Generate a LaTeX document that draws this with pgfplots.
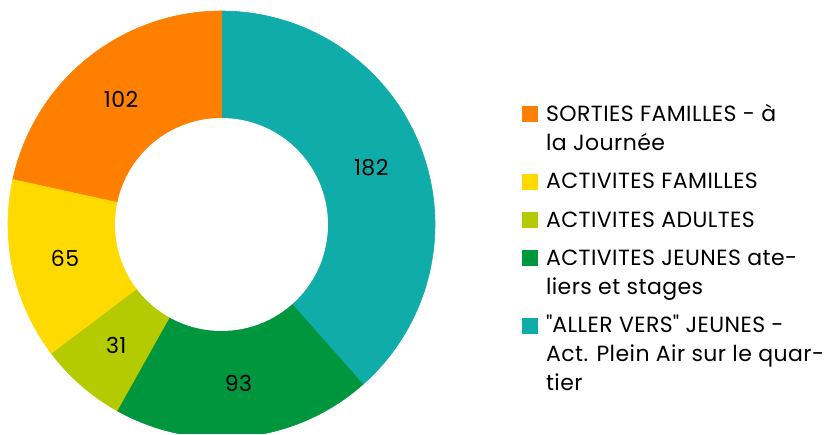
\documentclass[border=0pt]{standalone}
\usepackage{fontspec}
\setmainfont{Poppins}[LetterSpace=2]
\usepackage{pgfplots}
\pgfplotsset{compat=1.18}

\definecolor{cTeal}{RGB}{16,172,169}
\definecolor{cGreen}{RGB}{0,150,61}
\definecolor{cLime}{RGB}{179,203,0}
\definecolor{cYellow}{RGB}{255,218,0}
\definecolor{cOrange}{RGB}{255,128,0}

% slice values, clockwise from the top
\def\vA{182}% "ALLER VERS" JEUNES
\def\vB{93}%  ACTIVITES JEUNES
\def\vC{31}%  ACTIVITES ADULTES
\def\vD{65}%  ACTIVITES FAMILLES
\def\vE{102}% SORTIES FAMILLES

\pgfmathsetmacro\tot{\vA+\vB+\vC+\vD+\vE}
\pgfmathsetmacro\aA{90-\vA/\tot*360}
\pgfmathsetmacro\aB{\aA-\vB/\tot*360}
\pgfmathsetmacro\aC{\aB-\vC/\tot*360}
\pgfmathsetmacro\aD{\aC-\vD/\tot*360}
\pgfmathsetmacro\aE{\aD-\vE/\tot*360}
\pgfmathsetmacro\mA{(90+\aA)/2}
\pgfmathsetmacro\mB{(\aA+\aB)/2}
\pgfmathsetmacro\mC{(\aB+\aC)/2}
\pgfmathsetmacro\mD{(\aC+\aD)/2}
\pgfmathsetmacro\mE{(\aD+\aE)/2}

% legend text: lines 14.4pt apart, baseline on the first line
\newcommand\lgtext[1]{{\fontsize{11}{14.4}\selectfont\begin{tabular}[t]{@{}l@{}}#1\end{tabular}}}

\begin{document}
\begin{tikzpicture}
\begin{axis}[
  scale only axis,
  width=412.5pt, height=217pt,
  xmin=-1.0375, xmax=2.8267,
  ymin=-0.9813, ymax=1.0515,
  hide axis,
  clip=true,
  reverse legend,
  legend image code/.code={\fill[#1] (0pt,0pt) rectangle (7.5pt,7.5pt);},
  legend style={
    at={(axis cs:1.4075,0.5760)}, anchor=north west,
    draw=none, fill=none, inner sep=0pt, outer sep=0pt,
    row sep=4.8pt, column sep=4.2pt,
    nodes={inner sep=0pt, outer sep=0pt, text depth=},
    cells={anchor=base west},
  },
]
\addplot[fill=cTeal, draw=cTeal, line width=0.3pt, domain=\aA:90, samples=90, variable=\t]
  ({cos(\t)},{sin(\t)}) -- (axis cs:0,0) -- cycle;
\addlegendentry{\lgtext{\textquotedbl ALLER VERS\textquotedbl\ JEUNES -\\Act. Plein Air sur le quar-\\tier}}
\addplot[fill=cGreen, draw=cGreen, line width=0.3pt, domain=\aB:\aA, samples=60, variable=\t]
  ({cos(\t)},{sin(\t)}) -- (axis cs:0,0) -- cycle;
\addlegendentry{\lgtext{ACTIVITES JEUNES ate-\\liers et stages}}
\addplot[fill=cLime, draw=cLime, line width=0.3pt, domain=\aC:\aB, samples=30, variable=\t]
  ({cos(\t)},{sin(\t)}) -- (axis cs:0,0) -- cycle;
\addlegendentry{\lgtext{ACTIVITES ADULTES}}
\addplot[fill=cYellow, draw=cYellow, line width=0.3pt, domain=\aD:\aC, samples=40, variable=\t]
  ({cos(\t)},{sin(\t)}) -- (axis cs:0,0) -- cycle;
\addlegendentry{\lgtext{ACTIVITES FAMILLES}}
\addplot[fill=cOrange, draw=cOrange, line width=0.3pt, domain=\aE:\aD, samples=60, variable=\t]
  ({cos(\t)},{sin(\t)}) -- (axis cs:0,0) -- cycle;
\addlegendentry{\lgtext{SORTIES FAMILLES - à\\la Journée}}
% hole of the donut
\addplot[fill=white, draw=none, domain=0:360, samples=120, forget plot]
  ({0.4988*cos(x)},{0.4988*sin(x)});
% value labels
\node[font=\fontsize{11}{13}\selectfont] at (axis cs:{0.75*cos(\mA)},{0.75*sin(\mA)}) {182};
\node[font=\fontsize{11}{13}\selectfont] at (axis cs:{0.75*cos(\mB)},{0.75*sin(\mB)}) {93};
\node[font=\fontsize{11}{13}\selectfont] at (axis cs:{0.75*cos(\mC)},{0.75*sin(\mC)}) {31};
\node[font=\fontsize{11}{13}\selectfont] at (axis cs:{0.75*cos(\mD)},{0.75*sin(\mD)}) {65};
\node[font=\fontsize{11}{13}\selectfont] at (axis cs:{0.75*cos(\mE)},{0.75*sin(\mE)}) {102};
\end{axis}
\pgfresetboundingbox
\path (current axis.south west) rectangle (current axis.north east);
\end{tikzpicture}
\end{document}
